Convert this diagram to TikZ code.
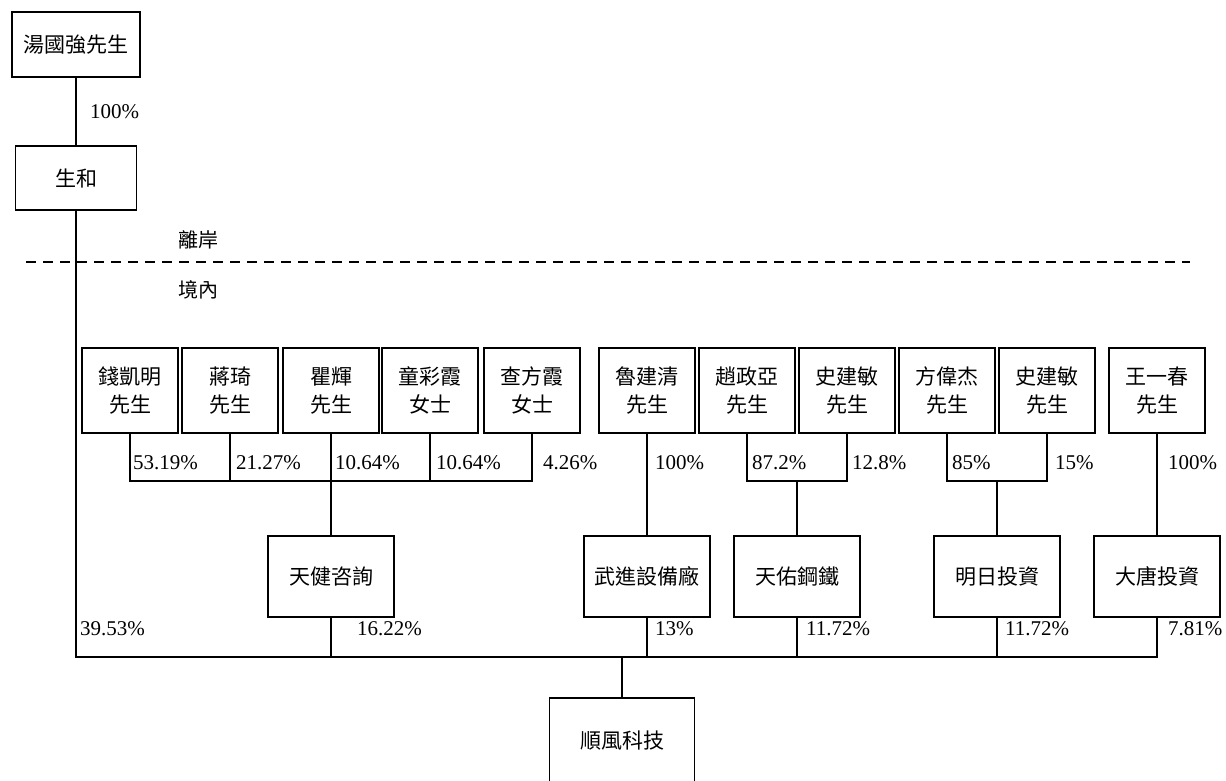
\documentclass[tikz,border=0pt]{standalone}
\usepackage{fontspec}
\setmainfont{Liberation Serif}
\newfontfamily\cjk{Noto Sans CJK TC}
\usetikzlibrary{calc}

\tikzset{
	holder/.style={draw,line width=1.4pt,minimum width=96pt,minimum height=85pt,inner sep=0pt,align=center,font=\cjk\fontsize{21}{28}\selectfont},
	firm/.style={draw,line width=1.4pt,minimum width=126pt,minimum height=81pt,inner sep=0pt,font=\cjk\fontsize{21}{24}\selectfont},
	pct/.style={anchor=west,inner sep=0pt,font=\fontsize{21}{24}\selectfont},
	zone/.style={inner sep=0pt,font=\cjk\fontsize{20}{23}\selectfont},
	link/.style={line width=1.4pt}
}

\begin{document}
\begin{tikzpicture}[x=1pt,y=-1pt]
	\useasboundingbox (0,0) rectangle (1226,780);
	% offshore part
	\node[firm,minimum width=128pt,minimum height=65pt] (tang) at (76,44.5) {湯國強先生};
	\node[firm,minimum width=121pt,minimum height=64pt] (shenghe) at (76,178) {生和};
	\draw[link] (tang) -- (shenghe);
	\node[pct] at (90,112) {100\%};
	\node[zone] (offshore) at (198,240) {離岸};
	\draw[line width=1.4pt,dash pattern=on 10pt off 7pt] (26,262) -- (1190,262);
	\node[zone] (onshore) at (198,290) {境內};
	% shareholders
	\foreach \n / \x / \t in {qian/130/錢凱明\\先生,jiang/230/蔣琦\\先生,qu/331/瞿輝\\先生,tong/430/童彩霞\\女士,zha/532/查方霞\\女士,lu/647/魯建清\\先生,zhao/747/趙政亞\\先生,shia/847/史建敏\\先生,fang/947/方偉杰\\先生,shib/1047/史建敏\\先生,wang/1157/王一春\\先生}
		{ \node[holder] (\n) at (\x,390.5) {\t}; }
	\foreach \n / \x / \t in {tianjian/331/天健咨詢,wujin/647/武進設備廠,tianyou/797/天佑鋼鐵,mingri/997/明日投資,datang/1157/大唐投資}
		{ \node[firm] (\n) at (\x,576.5) {\t}; }
	\node[firm,minimum width=145pt,minimum height=86pt] (shunfeng) at (622,741) {順風科技};
	% junctions
	\coordinate (ja) at (331,481);
	\coordinate (jb) at (797,481);
	\coordinate (jc) at (997,481);
	\coordinate (bus) at (622,657);
	\draw[link] (qian.south) |- (ja) -| (zha.south);
	\foreach \p in {jiang,qu,tong} { \draw[link] (\p.south) -- (\p.south |- ja); }
	\draw[link] (ja) -- (tianjian.north);
	\draw[link] (zhao.south) |- (jb) -| (shia.south);
	\draw[link] (jb) -- (tianyou.north);
	\draw[link] (fang.south) |- (jc) -| (shib.south);
	\draw[link] (jc) -- (mingri.north);
	\draw[link] (lu) -- (wujin);
	\draw[link] (wang) -- (datang);
	\draw[link] (shenghe.south) |- (bus) -| (datang.south);
	\foreach \p in {tianjian,wujin,tianyou,mingri} { \draw[link] (\p.south) -- (\p.south |- bus); }
	\draw[link] (bus) -- (shunfeng.north);
	% percentages
	\foreach \x / \v in {133/53.19,236/21.27,335/10.64,436/10.64,543/4.26,655/100,752/87.2,852/12.8,952/85,1055/15,1168/100}
		{ \node[pct] at (\x,463) {\v\%}; }
	\foreach \x / \v in {80/39.53,357/16.22,655/13,806/11.72,1005/11.72,1168/7.81}
		{ \node[pct] at (\x,629) {\v\%}; }
\end{tikzpicture}
\end{document}
